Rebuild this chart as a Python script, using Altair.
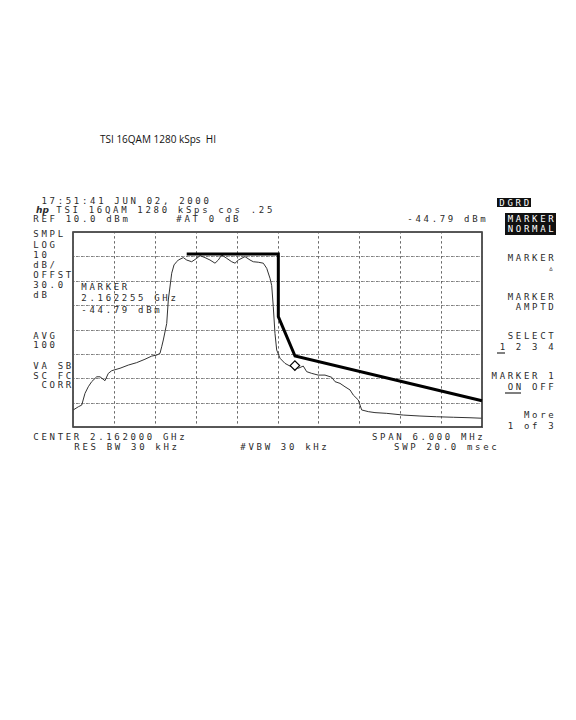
import altair as alt
import pandas as pd

# Frequency offset from the left edge (MHz, span 6 MHz centred on 2.162 GHz) and level (dBm)
trace_mhz = [0.004, 0.078, 0.128, 0.176, 0.224, 0.274, 0.348, 0.396, 0.469, 0.518,
             0.568, 0.690, 0.811, 0.934, 1.056, 1.155, 1.228, 1.276, 1.301, 1.325,
             1.375, 1.398, 1.448, 1.482, 1.521, 1.545, 1.618, 1.668, 1.741, 1.815,
             1.863, 1.936, 2.010, 2.083, 2.132, 2.181, 2.255, 2.328, 2.377, 2.425,
             2.523, 2.597, 2.645, 2.718, 2.792, 2.842, 2.890, 2.915, 2.938, 2.963,
             2.988, 3.037, 3.110, 3.183, 3.232, 3.305, 3.378, 3.428, 3.502, 3.598,
             3.697, 3.795, 3.844, 3.917, 3.990, 4.064, 4.112, 4.185, 4.235, 4.332,
             4.430, 4.602, 4.845, 5.090, 5.335, 5.579, 5.824, 5.995]
trace_dbm = [-63.0, -61.7, -61.0, -56.2, -53.5, -51.4, -49.4, -49.4, -51.0, -48.0,
             -46.9, -45.9, -44.6, -43.6, -42.2, -40.9, -40.5, -39.8, -37.1, -34.3,
             -27.5, -17.9, -6.9, -3.5, -2.2, -1.5, -0.5, -1.5, -2.2, -0.8,
             0.3, -0.5, -1.5, -2.8, -1.5, 0.6, -0.8, -2.2, -2.8, -1.5,
             -0.1, -1.5, -2.2, -2.4, -2.8, -4.9, -9.0, -12.0, -20.6, -31.6,
             -38.4, -41.8, -43.9, -45.0, -45.1, -45.9, -45.0, -47.3, -48.0, -48.7,
             -48.7, -49.6, -51.4, -52.1, -53.5, -54.8, -56.9, -58.9, -63.0, -63.7,
             -64.1, -64.4, -65.1, -65.5, -65.8, -66.0, -66.2, -66.4]

mask_mhz = [1.668, 3.012, 3.012, 3.257, 6.0]
mask_dbm = [1.0, 1.0, -24.7, -40.9, -59.2]

marker_mhz = [3.255]
marker_dbm = [-44.79]

x_grid = [0.0, 0.6, 1.2, 1.8, 2.4, 3.0, 3.6, 4.2, 4.8, 5.4, 6.0]
y_grid = [-70, -60, -50, -40, -30, -20, -10, 0, 10]

title_text = "TSI 16QAM 1280 kSps\u00a0\u00a0HI"

# screen annotations: text, page x, page y (centre), alignment
screen_labels = [
    (" 17:51:41 JUN 02, 2000", 32, 201, "left"),
    ("TSI 16QAM 1280 kSps cos .25", 55, 210, "left"),
    ("REF 10.0 dBm", 32, 219, "left"),
    ("#AT 0 dB", 175, 219, "left"),
    ("-44.79 dBm", 487, 219, "right"),
    ("SMPL", 32, 234, "left"),
    ("LOG", 32, 245, "left"),
    ("10", 32, 255, "left"),
    ("dB/", 32, 265, "left"),
    ("OFFST", 32, 275, "left"),
    ("30.0", 32, 285, "left"),
    ("dB", 32, 295, "left"),
    ("AVG", 32, 336, "left"),
    ("100", 32, 345, "left"),
    ("VA SB", 32, 366, "left"),
    ("SC FC", 32, 376, "left"),
    (" CORR", 32, 385, "left"),
    ("MARKER", 80, 287, "left"),
    ("2.162255 GHz", 80, 298, "left"),
    ("-44.79 dBm", 80, 310, "left"),
    ("CENTER 2.162000 GHz", 32, 437, "left"),
    ("RES BW 30 kHz", 73, 447, "left"),
    ("#VBW 30 kHz", 239, 447, "left"),
    ("SPAN 6.000 MHz", 484, 437, "right"),
    ("SWP 20.0 msec", 498, 447, "right"),
    ("MARKER", 555, 258, "right"),
    ("\u25b5", 555, 268, "right"),
    ("MARKER", 555, 297, "right"),
    ("AMPTD", 555, 307, "right"),
    ("SELECT", 555, 336, "right"),
    ("1 2 3 4", 555, 347, "right"),
    ("MARKER 1", 555, 376, "right"),
    ("ON OFF", 555, 387, "right"),
    ("More", 555, 415, "right"),
    ("1 of 3", 555, 426, "right"),
]
inverse_labels = [
    ("DGRD", 498, 202.5, "left"),
    ("MARKER", 555, 219, "right"),
    ("NORMAL", 555, 229, "right"),
]
inverse_boxes = [(497, 531, 198, 207), (505, 556, 213, 235)]
underlines = [(497, 505, 353), (505, 521, 393)]

# ---------------- layout ----------------
PX0, PY0 = 73, 232          # page position of the plot area's top-left corner
W, H = 409, 195
PITCH = 8.1


def explode(labels, color):
    rows = []
    for text, x, y, align in labels:
        n = len(text)
        start = x + PITCH / 2 if align == "left" else x - (n - 0.5) * PITCH
        for i, ch in enumerate(text):
            if ch == " ":
                continue
            rows.append({"ch": ch, "px": start + i * PITCH - PX0,
                         "py": y - PY0, "col": color})
    return rows


chars_df = pd.DataFrame(explode(screen_labels, "#2b2b2b") +
                        explode(inverse_labels, "#ffffff"))

trace_df = pd.DataFrame({"f": trace_mhz, "p": trace_dbm})
mask_df = pd.DataFrame({"f": mask_mhz, "p": mask_dbm, "o": list(range(len(mask_mhz)))})
marker_df = pd.DataFrame({"f": marker_mhz, "p": marker_dbm})
box_df = pd.DataFrame([{"x0": a - PX0, "x1": b - PX0, "y0": c - PY0, "y1": d - PY0}
                       for a, b, c, d in inverse_boxes])
ul_df = pd.DataFrame([{"x0": a - PX0, "x1": b - PX0, "y0": c - PY0}
                      for a, b, c in underlines])
title_df = pd.DataFrame([{"t": title_text, "px": 100 - PX0, "py": 140 - PY0}])

xscale = alt.Scale(domain=[0, 6], nice=False, zero=False)
yscale = alt.Scale(domain=[-70, 10], nice=False, zero=False)
grid_axis = dict(grid=True, labels=False, ticks=False, domain=False, title=None,
                 gridDash=[1, 4], gridColor="#555555", gridWidth=1)
X = alt.X("f:Q", scale=xscale, axis=alt.Axis(values=x_grid, **grid_axis))
Y = alt.Y("p:Q", scale=yscale, axis=alt.Axis(values=y_grid, **grid_axis))

trace = alt.Chart(trace_df).mark_line(color="#333333", strokeWidth=1).encode(x=X, y=Y)
mask = alt.Chart(mask_df).mark_line(color="#000000", strokeWidth=3).encode(
    x=X, y=Y, order="o:Q")
marker = alt.Chart(marker_df).mark_point(
    shape="diamond", filled=True, fill="white", stroke="black", strokeWidth=1.2,
    size=90, opacity=1).encode(x=X, y=Y)

PXe = alt.X("px:Q", scale=None, axis=None)
PYe = alt.Y("py:Q", scale=None, axis=None)

boxes = alt.Chart(box_df).mark_rect(color="#111111").encode(
    x=alt.X("x0:Q", scale=None, axis=None), x2="x1:Q",
    y=alt.Y("y0:Q", scale=None, axis=None), y2="y1:Q")
ulines = alt.Chart(ul_df).mark_rule(color="#2b2b2b", strokeWidth=1.2).encode(
    x=alt.X("x0:Q", scale=None, axis=None), x2="x1:Q",
    y=alt.Y("y0:Q", scale=None, axis=None))
chars = alt.Chart(chars_df).mark_text(
    font="DejaVu Sans Mono", fontSize=9, align="center", baseline="middle").encode(
    x=PXe, y=PYe, text="ch:N", color=alt.Color("col:N", scale=None, legend=None))
logo = alt.Chart(title_df).mark_text(
    text="hp", font="DejaVu Sans", fontSize=9, fontStyle="italic", fontWeight="bold",
    align="left", baseline="middle", color="#2b2b2b").encode(
    x=alt.value(36 - PX0), y=alt.value(210 - PY0))
title = alt.Chart(title_df).mark_text(
    font="Open Sans", fontSize=10, align="left", baseline="middle", color="#111111").encode(
    x=PXe, y=PYe, text="t:N")

chart = alt.layer(trace, mask, marker, boxes, ulines, chars, logo, title).resolve_scale(
    x="independent", y="independent").properties(
    width=W, height=H,
    padding={"left": PX0 - 8, "top": PY0 - 8, "right": 86, "bottom": 120},
    autosize=alt.AutoSizeParams(type="none"),
    background="white",
).configure_view(stroke="#222222", strokeWidth=1.5)

chart.save("out.html", embed_options={"renderer": "svg", "actions": False})
